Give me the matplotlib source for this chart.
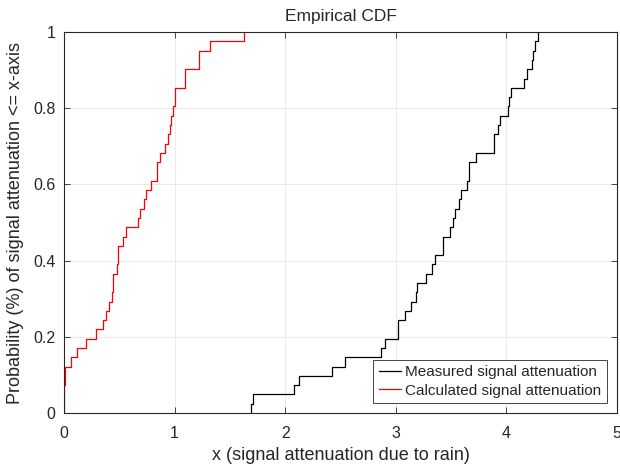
import numpy as np
import matplotlib
matplotlib.use("Agg")
import matplotlib.pyplot as plt

# Sample values read from the empirical CDF (41 samples each)
measured = [1.688, 1.709, 2.081, 2.126, 2.42, 2.541, 2.87, 2.905, 3.016, 3.016,
            3.082, 3.139, 3.179, 3.191, 3.273, 3.33, 3.354, 3.43, 3.43, 3.494,
            3.521, 3.539, 3.572, 3.588, 3.642, 3.663, 3.663, 3.73, 3.89, 3.89,
            3.926, 3.944, 4.017, 4.025, 4.04, 4.162, 4.183, 4.228, 4.243, 4.258,
            4.289]
calculated = [0.0, 0.0, 0.0, 0.012, 0.012, 0.06, 0.115, 0.197, 0.293, 0.357,
              0.381, 0.411, 0.436, 0.441, 0.441, 0.478, 0.487, 0.487, 0.538, 0.563,
              0.665, 0.684, 0.72, 0.741, 0.783, 0.837, 0.837, 0.871, 0.917, 0.941,
              0.956, 0.971, 0.983, 1.001, 1.001, 1.098, 1.098, 1.219, 1.219, 1.316,
              1.627]
series_labels = ["Measured signal attenuation", "Calculated signal attenuation"]
x_ticks = [0, 1, 2, 3, 4, 5]
y_ticks = [0, 0.2, 0.4, 0.6, 0.8, 1]
y_tick_labels = ["0", "0.2", "0.4", "0.6", "0.8", "1"]


def ecdf_xy(values):
    v = np.sort(np.asarray(values, dtype=float))
    u, counts = np.unique(v, return_counts=True)
    f = np.cumsum(counts) / len(v)
    xs = np.concatenate([[u[0]], u])
    ys = np.concatenate([[0.0], f])
    return xs, ys


plt.rcParams['font.family'] = ['Liberation Sans', 'DejaVu Sans']
txt = '#262626'

fig = plt.figure(figsize=(6.2, 4.66), dpi=100)
ax = fig.add_axes([0.1032, 0.1137, 0.8918, 0.8173])

xm, ym = ecdf_xy(measured)
xc, yc = ecdf_xy(calculated)
ax.step(xm, ym, where='post', color='black', lw=0.9, label=series_labels[0])
ax.step(xc, yc, where='post', color='red', lw=0.9, label=series_labels[1])

ax.set_xlim(0, 5)
ax.set_ylim(0, 1)
ax.set_xticks(x_ticks)
ax.set_yticks(y_ticks)
ax.set_yticklabels(y_tick_labels)
ax.grid(True, color='#e6e6e6', lw=0.6)
ax.set_axisbelow(True)
ax.tick_params(direction='in', length=4, width=0.6, colors=txt, labelsize=11.5,
               top=True, right=True)
ax.tick_params(axis='x', pad=9)
ax.tick_params(axis='y', pad=6)
for s in ax.spines.values():
    s.set_color(txt)
    s.set_linewidth(0.8)

ax.set_title("Empirical CDF", fontsize=12.5, color=txt, pad=8)
ax.set_xlabel("x (signal attenuation due to rain)", fontsize=13, color=txt, labelpad=5)
ax.set_ylabel("Probability (%) of signal attenuation <= x-axis", fontsize=13, color=txt, labelpad=7)

leg = ax.legend(loc='lower right', fontsize=11, frameon=True, fancybox=False,
                edgecolor=txt, framealpha=1, borderpad=0.35, labelspacing=0.3,
                handlelength=1.45, handletextpad=0.3, borderaxespad=0.65)
leg.get_frame().set_linewidth(0.6)
for t in leg.get_texts():
    t.set_color(txt)

fig.savefig("out.png", dpi=100)
